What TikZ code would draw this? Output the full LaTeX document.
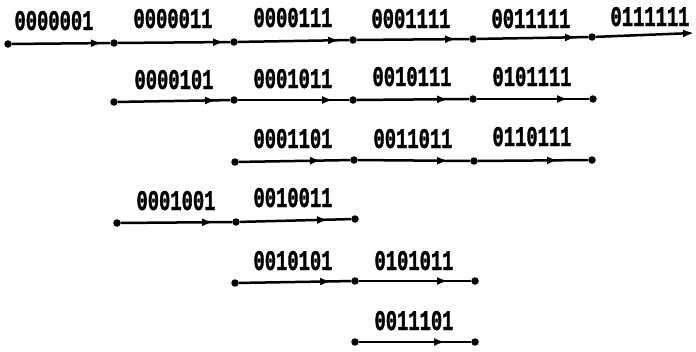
\documentclass[tikz,border=0pt]{standalone}
\usepackage{fontspec}
\newfontfamily\labfont{Liberation Mono}[UprightFont=* Bold, FakeStretch=0.66, FakeBold=1.2]
\usetikzlibrary{arrows.meta,decorations.markings}
\tikzset{
  dot/.style={circle, fill=black, inner sep=0pt, minimum size=7.5pt},
  conn/.style={line width=2.5pt, black},
  arrowat/.style={postaction={decorate}, decoration={markings,
     mark=at position -#1 with {\arrow{Latex[length=11pt,width=8pt]}}}},
  lab/.style={anchor=base, inner sep=0pt, font=\labfont\fontsize{28.5}{29}\selectfont}
}
\begin{document}
\begin{tikzpicture}[x=1pt,y=-1pt]
\useasboundingbox (0,0) rectangle (696,351);
% row 1
\node[dot] (r1a) at (8,44) {};
\node[dot] (r1b) at (114,43) {};
\node[dot] (r1c) at (234,42) {};
\node[dot] (r1d) at (353,40) {};
\node[dot] (r1e) at (473,39) {};
\node[dot] (r1f) at (592,37) {};
\coordinate (r1g) at (694,33);
\draw[conn, arrowat=8pt] (r1a) -- (r1b);
\draw[conn, arrowat=6pt] (r1b) -- (r1c);
\draw[conn, arrowat=10pt] (r1c) -- (r1d);
\draw[conn, arrowat=13pt] (r1d) -- (r1e);
\draw[conn, arrowat=12pt] (r1e) -- (r1f);
\draw[conn, -{Latex[length=11pt,width=8pt]}] (r1f) -- (r1g);
\node[lab] at (54,30) {0000001};
\node[lab] at (173,28) {0000011};
\node[lab] at (293,27) {0000111};
\node[lab] at (411,28) {0001111};
\node[lab] at (531,28) {0011111};
\node[lab] at (650,26) {0111111};
% row 2
\node[dot] (r2a) at (114,102) {};
\node[dot] (r2b) at (234,100) {};
\node[dot] (r2c) at (353,100) {};
\node[dot] (r2d) at (473,99) {};
\node[dot] (r2e) at (593,99) {};
\draw[conn, arrowat=14pt] (r2a) -- (r2b);
\draw[conn, arrowat=16pt] (r2b) -- (r2c);
\draw[conn, arrowat=21pt] (r2c) -- (r2d);
\draw[conn, arrowat=21pt] (r2d) -- (r2e);
\node[lab] at (174,89) {0000101};
\node[lab] at (293,88) {0001011};
\node[lab] at (412,86) {0010111};
\node[lab] at (532,86) {0101111};
% row 3
\node[dot] (r3a) at (235,162) {};
\node[dot] (r3b) at (354,160) {};
\node[dot] (r3c) at (474,161) {};
\node[dot] (r3d) at (592,160) {};
\draw[conn, arrowat=29pt] (r3a) -- (r3b);
\draw[conn, arrowat=22pt] (r3b) -- (r3c);
\draw[conn, arrowat=30pt] (r3c) -- (r3d);
\node[lab] at (293,148) {0001101};
\node[lab] at (413,148) {0011011};
\node[lab] at (532,146) {0110111};
% row 4
\node[dot] (r4a) at (117,223) {};
\node[dot] (r4b) at (236,222) {};
\node[dot] (r4c) at (355,219) {};
\draw[conn, arrowat=19pt] (r4a) -- (r4b);
\draw[conn, arrowat=23pt] (r4b) -- (r4c);
\node[lab] at (176,210) {0001001};
\node[lab] at (293,207) {0010011};
% row 5
\node[dot] (r5a) at (235,283) {};
\node[dot] (r5b) at (355,281) {};
\node[dot] (r5c) at (475,281) {};
\draw[conn, arrowat=20pt] (r5a) -- (r5b);
\draw[conn, arrowat=23pt] (r5b) -- (r5c);
\node[lab] at (293,270) {0010101};
\node[lab] at (414,270) {0101011};
% row 6
\node[dot] (r6a) at (355,342) {};
\node[dot] (r6b) at (475,342) {};
\draw[conn, arrowat=26pt] (r6a) -- (r6b);
\node[lab] at (414,330) {0011101};
\end{tikzpicture}
\end{document}
